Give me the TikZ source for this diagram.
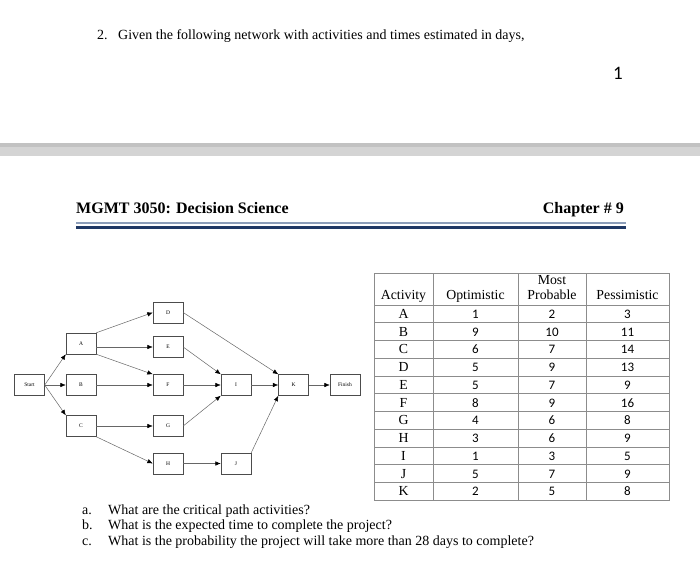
\documentclass[tikz,border=0pt]{standalone}
\usepackage{fontspec}
\setmainfont{Liberation Serif}
\newfontfamily\calfont{Carlito}
\usetikzlibrary{arrows.meta}
\definecolor{navyrule}{RGB}{31,56,100}
\definecolor{lightrule}{RGB}{140,158,185}
\tikzset{
  act/.style={draw=black!70, thin, minimum width=30pt, minimum height=21pt, inner sep=0pt,
              font=\fontsize{5.5}{6}\selectfont},
  ar/.style={draw=black!60, line width=.5pt, -{Latex[length=5.5pt,width=4.5pt,black]}},
  tabline/.style={draw=black!45, line width=.6pt},
  cell/.style={inner sep=0pt, anchor=base},
  head/.style={cell, font=\fontsize{13.8}{15}\selectfont},
  num/.style={cell, font=\calfont\fontsize{13}{15}\selectfont},
  quest/.style={inner sep=0pt, anchor=base west, font=\fontsize{14}{16}\selectfont}
}
\begin{document}
\begin{tikzpicture}[x=1pt,y=-1pt]
\useasboundingbox (0,0) rectangle (700,567);
%question
\node[quest] (qnum) at (97,40) {2.};
\node[quest] (qtext) at (118,40) {Given the following network with activities and times estimated in days,};
\node[inner sep=0pt, anchor=base, font=\calfont\fontsize{19}{21}\selectfont] (pagenum) at (618,80) {1};
%page break band
\fill[black!17] (0,143) rectangle (700,156);
\fill[black!24] (0,143) rectangle (700,147);
%running head
\node[inner sep=0pt, anchor=base west, font=\bfseries\fontsize{16}{18}\selectfont] (course) at (76,213) {MGMT 3050: Decision Science};
\node[inner sep=0pt, anchor=base east, font=\bfseries\fontsize{16}{18}\selectfont] (chapter) at (624,213) {Chapter \# 9};
\draw[lightrule, line width=1.2pt] (76,223) -- (626,223);
\draw[navyrule, line width=3pt] (76,227.3) -- (626,227.3);

%network
\node[act] (start) at (29.5,385) {Start};
\node[act] (a) at (81,343.5) {A};
\node[act] (b) at (81,385) {B};
\node[act] (c) at (81,426) {C};
\node[act] (d) at (168,312.5) {D};
\node[act] (e) at (168,347) {E};
\node[act] (f) at (168,385) {F};
\node[act] (g) at (168,426) {G};
\node[act] (h) at (168,463.5) {H};
\node[act] (i) at (236,385) {I};
\node[act] (j) at (236,463.5) {J};
\node[act] (k) at (293.5,385) {K};
\node[act] (fin) at (345,385) {Finish};

\draw[ar] (start.east) -- (a.south west);
\draw[ar] (start) -- (b);
\draw[ar] (start.east) -- (c.north west);
\draw[ar] (a.north east) -- (d.west);
\draw[ar] (a.east |- e) -- (e.west);
\draw[ar] (a.south east) -- (f.north west);
\draw[ar] (b) -- (f);
\draw[ar] (c) -- (g);
\draw[ar] (c.south east) -- (h.west);
\draw[ar] (d.east) -- (k.north west);
\draw[ar] (e.east) -- (i.north west);
\draw[ar] (f) -- (i);
\draw[ar] (g.east) -- (i.south west);
\draw[ar] (h) -- (j);
\draw[ar] (j.north east) -- (k.south west);
\draw[ar] (i) -- (k);
\draw[ar] (k) -- (fin);

%table
\draw[tabline] (374,273) rectangle (669,500.25);
\foreach \x in {433,518,586}
  \draw[tabline] (\x,273) -- (\x,500.25);
\foreach \r in {0,...,10}
  \draw[tabline] (374,{305+17.75*\r}) -- (669,{305+17.75*\r});
\node[head] (hact) at (403.5,299) {Activity};
\node[head] (hopt) at (475.5,299) {Optimistic};
\node[head] (hmost) at (552,284) {Most};
\node[head] (hprob) at (552,299) {Probable};
\node[head] (hpes) at (627.5,299) {Pessimistic};
\foreach \n/\o/\m/\p [count=\r] in {A/1/2/3, B/9/10/11, C/6/7/14, D/5/9/13, E/5/7/9, F/8/9/16,
                                    G/4/6/8, H/3/6/9, I/1/3/5, J/5/7/9, K/2/5/8}{
  \node[head] (n\n) at (403.5,{300.6+17.75*\r}) {\n};
  \node[num] (o\n) at (475.5,{300.6+17.75*\r}) {\o};
  \node[num] (m\n) at (552,{300.6+17.75*\r}) {\m};
  \node[num] (p\n) at (627.5,{300.6+17.75*\r}) {\p};
}

%sub questions
\node[quest] (qa) at (82,514) {a.};
\node[quest] (qatext) at (108,514) {What are the critical path activities?};
\node[quest] (qb) at (82,529.5) {b.};
\node[quest] (qbtext) at (108,529.5) {What is the expected time to complete the project?};
\node[quest] (qc) at (82,545.5) {c.};
\node[quest] (qctext) at (108,545.5) {What is the probability the project will take more than 28 days to complete?};
\end{tikzpicture}
\end{document}
